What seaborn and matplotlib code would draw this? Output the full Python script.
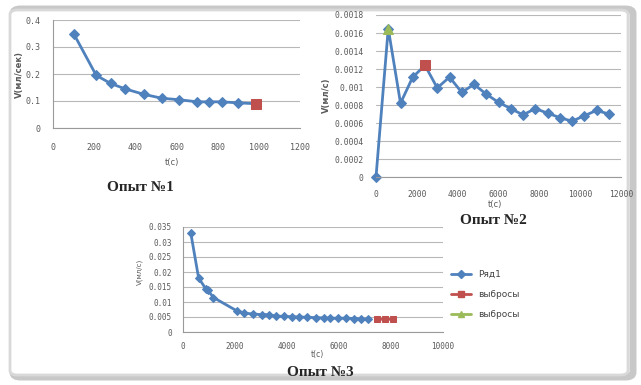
import matplotlib
matplotlib.use('Agg')
import matplotlib.pyplot as plt
import numpy as np
import pandas as pd
import seaborn as sns
from matplotlib.patches import FancyBboxPatch
from matplotlib.lines import Line2D

sns.set_style('white')
plt.rcParams['font.family'] = ['DejaVu Sans']

BLUE = '#4F81BD'
RED = '#C0504D'
GREEN = '#9BBB59'
TICK = '#5a5a5a'

# Опыт №1
t1 = [100, 210, 280, 350, 440, 530, 610, 700, 760, 820, 900, 985]
v1 = [0.35, 0.195, 0.165, 0.145, 0.125, 0.11, 0.105, 0.097, 0.097, 0.097, 0.093, 0.09]
t1_out = [985]
v1_out = [0.09]

# Опыт №2
t2 = [0, 600, 1200, 1800, 2400, 3000, 3600, 4200, 4800, 5400, 6000, 6600,
      7200, 7800, 8400, 9000, 9600, 10200, 10800, 11400]
v2 = [0, 0.00165, 0.00082, 0.00111, 0.00124, 0.00099, 0.00111, 0.00094,
      0.00103, 0.00092, 0.00083, 0.00076, 0.00069, 0.00076, 0.00071,
      0.00066, 0.00062, 0.00068, 0.00074, 0.0007]
t2_red = [2400]
v2_red = [0.00124]
t2_green = [600]
v2_green = [0.00165]

# Опыт №3
t3 = [300, 600, 870, 950, 1170, 2080, 2360, 2680, 3030, 3290, 3570, 3890,
      4200, 4480, 4780, 5100, 5410, 5670, 5960, 6270, 6560, 6840, 7130]
v3 = [0.033, 0.018, 0.0145, 0.014, 0.0115, 0.007, 0.0063, 0.006, 0.0058,
      0.0058, 0.0053, 0.0052, 0.0051, 0.005, 0.0049, 0.0048, 0.0047,
      0.0046, 0.0046, 0.0046, 0.0045, 0.0044, 0.0042]
t3_out = [7450, 7770, 8090]
v3_out = [0.0042, 0.0043, 0.0042]

W, H = 641, 385
fig = plt.figure(figsize=(W / 100, H / 100), dpi=100)
fig.patch.set_facecolor('white')


def px_axes(left, top, right, bottom):
    ax = fig.add_axes([left / W, 1 - bottom / H, (right - left) / W, (bottom - top) / H])
    ax.set_facecolor('none')
    return ax


def style(ax, xmax, xstep, ymax, ystep, ylabels, size=6, xpad=10, ypad=8):
    ax.set_xlim(0, xmax)
    ax.set_ylim(0, ymax)
    ax.set_xticks(np.arange(0, xmax + 1, xstep))
    ax.set_yticks(np.arange(0, ymax + ystep / 2, ystep))
    ax.set_yticklabels(ylabels)
    ax.grid(axis='y', color='#b8b8b8', lw=0.8)
    ax.set_axisbelow(True)
    for s in ['top', 'right']:
        ax.spines[s].set_visible(False)
    for s in ['left', 'bottom']:
        ax.spines[s].set_color('#9a9a9a')
        ax.spines[s].set_linewidth(0.8)
    ax.tick_params(axis='x', labelsize=size, colors=TICK, length=0, pad=xpad)
    ax.tick_params(axis='y', labelsize=size, colors=TICK, length=0, pad=ypad)
    for lab in ax.get_xticklabels() + ax.get_yticklabels():
        lab.set_family('DejaVu Sans Mono')
    ax.set_xlabel('')
    ax.set_ylabel('')


# frame with shadow
shadow = FancyBboxPatch((13 / W, 8 / H), 620 / W, 368 / H,
                        boxstyle='round,pad=0,rounding_size=0.012',
                        transform=fig.transFigure, facecolor='none',
                        edgecolor='#c8c8c8', lw=5, zorder=-20)
frame = FancyBboxPatch((10 / W, 10 / H), 618 / W, 365 / H,
                       boxstyle='round,pad=0,rounding_size=0.012',
                       transform=fig.transFigure, facecolor='white',
                       edgecolor='#d9d9d9', lw=2, zorder=-10)
fig.patches.extend([shadow, frame])

# chart 1
ax1 = px_axes(53, 20, 300, 128)
sns.lineplot(x=t1, y=v1, ax=ax1, color=BLUE, lw=2, marker='D', markersize=5,
             markeredgecolor=BLUE, sort=False)
sns.lineplot(x=t1_out, y=v1_out, ax=ax1, color=RED, marker='s', markersize=7,
             markeredgecolor=RED, lw=0)
style(ax1, 1200, 200, 0.4, 0.1, ['0', '0.1', '0.2', '0.3', '0.4'], xpad=11, ypad=9)
fig.text(172 / W, 1 - 163 / H, 't(c)', fontsize=6, color=TICK, ha='center', va='center')
fig.text(19 / W, 1 - 75 / H, 'V(мл/сек)', fontsize=6, color=TICK, ha='center',
         va='center', rotation=90, fontweight='bold')
fig.text(140 / W, 1 - 187 / H, 'Опыт №1', fontsize=11, fontweight='bold',
         family='Liberation Serif', ha='center', va='center')

# chart 2
ax2 = px_axes(376, 15, 621, 177)
sns.lineplot(x=t2, y=v2, ax=ax2, color=BLUE, lw=2, marker='D', markersize=5,
             markeredgecolor=BLUE, sort=False)
sns.lineplot(x=t2_red, y=v2_red, ax=ax2, color=RED, marker='s', markersize=7,
             markeredgecolor=RED, lw=0)
sns.lineplot(x=t2_green, y=v2_green, ax=ax2, color=GREEN, marker='^', markersize=7,
             markeredgecolor=GREEN, lw=0)
style(ax2, 12000, 2000, 0.0018, 0.0002,
      ['0', '0.0002', '0.0004', '0.0006', '0.0008', '0.001', '0.0012',
       '0.0014', '0.0016', '0.0018'], size=5.8, xpad=9, ypad=9)
ax2.spines['left'].set_visible(False)
for ln in ax2.lines:
    ln.set_clip_on(False)
fig.text(495 / W, 1 - 205 / H, 't(c)', fontsize=6, color=TICK, ha='center', va='center')
fig.text(326 / W, 1 - 95 / H, 'V(мл/с)', fontsize=6, color=TICK, ha='center',
         va='center', rotation=90, fontweight='bold')
fig.text(493 / W, 1 - 220 / H, 'Опыт №2', fontsize=11, fontweight='bold',
         family='Liberation Serif', ha='center', va='center')

# chart 3
ax3 = px_axes(183, 227, 443, 332)
sns.lineplot(x=t3, y=v3, ax=ax3, color=BLUE, lw=2, marker='D', markersize=4,
             markeredgecolor=BLUE, sort=False)
sns.lineplot(x=t3_out, y=v3_out, ax=ax3, color=RED, marker='s', markersize=5,
             markeredgecolor=RED, lw=2, sort=False)
style(ax3, 10000, 2000, 0.035, 0.005,
      ['0', '0.005', '0.01', '0.015', '0.02', '0.025', '0.03', '0.035'],
      size=5.5, xpad=7, ypad=8)
for ln in ax3.lines:
    ln.set_clip_on(False)
fig.text(317 / W, 1 - 355 / H, 't(c)', fontsize=5.5, color=TICK, ha='center', va='center')
fig.text(140 / W, 1 - 272 / H, 'V(мл/с)', fontsize=5, color=TICK, ha='center',
         va='center', rotation=90)
fig.text(320 / W, 1 - 372 / H, 'Опыт №3', fontsize=11, fontweight='bold',
         family='Liberation Serif', ha='center', va='center')

handles = [
    Line2D([], [], color=BLUE, lw=2, marker='D', markersize=4),
    Line2D([], [], color=RED, lw=2, marker='s', markersize=5),
    Line2D([], [], color=GREEN, lw=2, marker='^', markersize=5),
]
fig.legend(handles, ['Ряд1', 'выбросы', 'выбросы'], loc='upper left',
           bbox_to_anchor=(443 / W, 1 - 262 / H), frameon=False, fontsize=6.5,
           handlelength=2.2, labelspacing=1.2, labelcolor='#444444')

fig.savefig('out.png', dpi=100, facecolor='white')
